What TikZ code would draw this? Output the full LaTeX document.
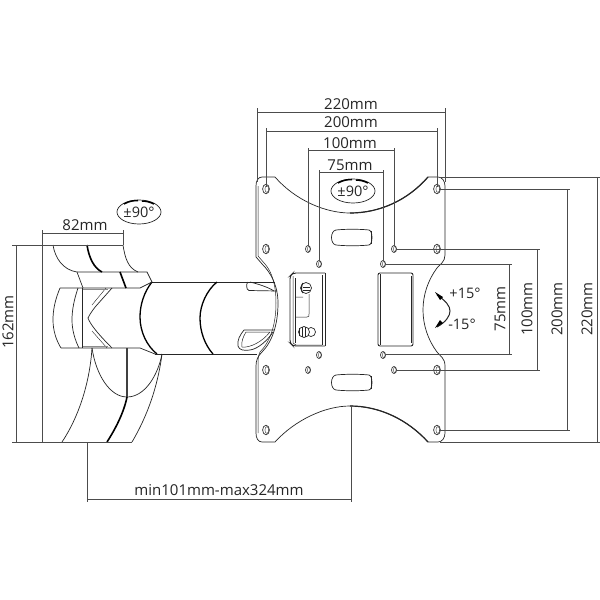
\documentclass[tikz,border=0pt]{standalone}
\usepackage{fontspec}
\setmainfont{Open Sans}
\usetikzlibrary{arrows.meta}
\tikzset{
  dim/.style={draw=black!70,line width=0.8pt},
  part/.style={draw=black!85,line width=0.7pt},
  thick part/.style={draw=black,line width=1.6pt},
  hole/.style={draw=black!80,line width=0.7pt},
  lbl/.style={font=\fontsize{15}{15}\selectfont,text=black!85,inner sep=0pt},
  lblsm/.style={font=\fontsize{14.5}{15}\selectfont,text=black!85,inner sep=0pt}
}
\newcommand{\holeat}[3]{\draw[hole] (#1,#2) ellipse [x radius=#3,y radius=#3*1.4]; \draw[hole,line width=0.4pt] (#1+0.8,#2) ellipse [x radius=#3*0.55,y radius=#3*1.0];}
\begin{document}
\begin{tikzpicture}[x=1pt,y=-1pt]
\useasboundingbox (0,0) rectangle (600,600);
\fill[white] (0,0) rectangle (600,600);

% plate
\draw[part] (262,177) -- (275,177) .. controls (295,200) and (325,213) .. (350,213)
  .. controls (380,213) and (408,200) .. (428,177) -- (438,177)
  .. controls (442,177) and (445,181) .. (445,186) -- (445,255)
  .. controls (445,262) and (440,264) .. (437,268)
  .. controls (428,280) and (423,295) .. (423,310)
  .. controls (423,325) and (428,340) .. (437,352)
  .. controls (440,356) and (445,358) .. (445,366) -- (445,433)
  .. controls (445,438) and (442,442) .. (438,442) -- (428,442)
  .. controls (408,420) and (380,406) .. (350,406)
  .. controls (325,406) and (295,420) .. (275,442) -- (262,442)
  .. controls (258,442) and (256,438) .. (256,433) -- (256,366)
  .. controls (256,360) and (258,356) .. (262,352)
  .. controls (272,342) and (278,325) .. (278,303)
  .. controls (278,285) and (270,272) .. (263,265) -- (256,257) -- (256,186)
  .. controls (256,181) and (258,177) .. (262,177) -- cycle;
% inner double edges and heavier arcs
\draw[part,line width=0.5pt] (258,186) -- (258,256) -- (265,264) .. controls (272,272) and (276,285) .. (276,303)
  .. controls (276,325) and (270,342) .. (260,352) .. controls (258,356) and (258,360) .. (258,366) -- (258,433);
\draw[part,line width=1.2pt] (350,213) .. controls (380,213) and (408,200) .. (428,177);
\draw[part,line width=1.2pt] (428,442) .. controls (408,420) and (380,406) .. (350,406);

% holes
\holeat{266}{189}{3.4} \holeat{437}{189}{3.4}
\holeat{266}{249}{3.4} \holeat{437}{249}{3.4}
\holeat{266}{370}{3.4} \holeat{437}{370}{3.4}
\holeat{266}{430}{3.4} \holeat{437}{430}{3.4}
\holeat{308}{249}{2.5} \holeat{394}{249}{2.5}
\holeat{308}{370}{2.5} \holeat{394}{370}{2.5}
\holeat{319}{264}{2.5} \holeat{383}{264}{2.5}
\holeat{319}{355}{2.5} \holeat{383}{355}{2.5}

% plate slots
\draw[part] (336,230) .. controls (345,229) and (360,229) .. (369,230) .. controls (373,231) and (373,244) .. (369,245) .. controls (360,246) and (345,246) .. (336,245) .. controls (330,244) and (330,231) .. (336,230) -- cycle;
\draw[part,line width=0.4pt] (371,231) -- (371,244);
\draw[part] (336,375) .. controls (345,374) and (360,374) .. (369,375) .. controls (373,376) and (373,389) .. (369,390) .. controls (360,391) and (345,391) .. (336,390) .. controls (330,389) and (330,376) .. (336,375) -- cycle;
\draw[part,line width=0.4pt] (371,376) -- (371,389);

% right bracket cut-out
\draw[part,rounded corners=2pt,line width=0.9pt] (378,273) rectangle (413,346);
\draw[part,line width=0.4pt,rounded corners=1pt] (380,274) -- (380,345);
\draw[part,line width=0.4pt,rounded corners=1pt] (411,276) -- (411,343);

% left bracket
\draw[part,rounded corners=3pt,line width=0.9pt] (325,273) -- (293,273) -- (290,276) -- (290,343) -- (293,346) -- (325,346);
\draw[part] (325,273) -- (325,346);
\draw[part,line width=0.5pt] (293,276) -- (293,343) -- (296,345) -- (322,345);
\draw[part,line width=0.5pt] (322,275) -- (322,345);
\draw[part,line width=0.5pt] (295,278) -- (295,343);
\draw[part,line width=0.5pt] (295,297) -- (303,297) (295,317) -- (307,317) .. controls (309,317) and (309,316) .. (309,314) -- (309,294);
\draw[part,fill=white,line width=0.7pt] (306,288) circle [radius=5.5];
\draw[part,line width=1pt] (303,283) .. controls (301,286) and (301,291) .. (303,293);
\draw[part,line width=0.5pt] (303,287) -- (310,287) (303,290) -- (310,290);
\draw[part,fill=white,line width=0.7pt] (311,332) circle [radius=4.5];
\draw[part,fill=white,line width=0.7pt] (304,332) circle [radius=5.5];
\draw[part,line width=0.9pt] (299,328) -- (299,336) (302,327) -- (302,337) (305,327) -- (305,337);

% arm: cylinder
\draw[part] (152,282) -- (275,282);
\draw[part] (157,354) -- (257,354);
\draw[thick part,line width=1.3pt] (152,282) .. controls (144,292) and (140,305) .. (140,317) .. controls (140,332) and (147,346) .. (157,354);
\draw[thick part,line width=1.3pt] (217,282) .. controls (207,290) and (200,305) .. (200,318) .. controls (200,332) and (205,345) .. (213,354);
% cylinder windows
\draw[part] (277,291) -- (249,290.5) .. controls (246,290) and (246,283) .. (248,282);
\draw[part] (250,282) .. controls (258,284) and (268,287) .. (274,291);
\draw[part] (274,330) -- (244,330) .. controls (240,335) and (237,340) .. (238,346) .. controls (239,350) and (244,351) .. (250,350) .. controls (258,349) and (268,340) .. (273,332);
\draw[part,line width=0.5pt] (270,332) -- (246,332) .. controls (243,337) and (241,342) .. (242,347) .. controls (250,348) and (262,342) .. (270,332);

% arm: joint
\draw[part] (60,288) -- (140,288) -- (152,282);
\draw[part] (61,348) -- (140,348) -- (155,354);
\draw[part] (77,272) -- (147,272) -- (152,282);
\draw[part] (60,288) .. controls (55,300) and (53,310) .. (53,320) .. controls (53,330) and (56,340) .. (61,348);
\draw[part] (78,288) .. controls (74,300) and (72,310) .. (72,320) .. controls (72,330) and (75,340) .. (79,348);
\draw[part] (82,288) -- (82,348);
\draw[part] (112,288) -- (96,306) .. controls (91,312) and (89,316) .. (88,318) .. controls (90,324) and (98,334) .. (112,348);
\draw[part,line width=0.4pt] (106,288) -- (92,305) (107,348) -- (92,331);
\draw[part,line width=1.2pt,draw=black!45] (83,346.5) -- (108,346.5);
\draw[part,line width=1.2pt,draw=black!45] (83,289.5) -- (108,289.5);

% arm: upper wall
\draw[part] (53,245) .. controls (55,258) and (63,270) .. (77,272);
\draw[thick part] (87,245) .. controls (89,258) and (94,268) .. (102,272);
\draw[part] (123,245) .. controls (125,258) and (128,268) .. (138,272);
\draw[part] (77,272) -- (83,288);
\draw[thick part] (120,272) -- (126,288);

% arm: lower wall
\draw[part] (92,348) .. controls (90,380) and (80,415) .. (62,442);
\draw[part] (92,348) .. controls (96,375) and (110,397) .. (127,397) .. controls (145,397) and (158,375) .. (162,354);
\draw[thick part,draw=black!75] (127,348) -- (127,397);
\draw[thick part] (127,397) .. controls (124,412) and (116,428) .. (107,442);
\draw[part] (162,354) .. controls (158,385) and (148,415) .. (132,442);
\draw[part] (155,354) -- (180,354);

% left dimensions
\draw[dim] (42,230) -- (42,442);
\draw[dim] (123,230) -- (123,245);
\draw[dim] (42,233) -- (123,233);
\draw[dim] (12,245) -- (123,245);
\draw[dim] (12,442) -- (132,442);
\draw[dim] (16,245) -- (16,442);
\node[lbl] (l82) at (85,225) {82mm};
\node[lbl,rotate=90] (l162) at (8,322) {162mm};

% travel dimension
\draw[dim] (87,442) -- (87,502);
\draw[dim] (351,406) -- (351,502);
\draw[dim] (87,499) -- (351,499);
\node[lbl] (lmin) at (219,490) {min101mm-max324mm};

% top dimensions
\draw[dim] (257,108) -- (257,182);
\draw[dim] (445,108) -- (445,182);
\draw[dim] (257,112) -- (445,112);
\draw[dim] (266,128) -- (266,187);
\draw[dim] (437,128) -- (437,187);
\draw[dim] (266,131) -- (437,131);
\draw[dim] (308,148) -- (308,246);
\draw[dim] (394,148) -- (394,246);
\draw[dim] (308,150) -- (394,150);
\draw[dim] (319,170) -- (319,261);
\draw[dim] (383,170) -- (383,261);
\draw[dim] (319,172) -- (383,172);
\node[lbl] (t220) at (351,104) {220mm};
\node[lbl] (t200) at (351,122) {200mm};
\node[lbl] (t100) at (350,143) {100mm};
\node[lbl] (t75) at (350,165) {75mm};

% right dimensions
\draw[dim] (440,177) -- (600,177);
\draw[dim] (440,442) -- (600,442);
\draw[dim] (597,177) -- (597,442);
\draw[dim] (439,189) -- (570,189);
\draw[dim] (439,430) -- (570,430);
\draw[dim] (567,189) -- (567,430);
\draw[dim] (396,249) -- (540,249);
\draw[dim] (396,370) -- (540,370);
\draw[dim] (537,249) -- (537,370);
\draw[dim] (385,264) -- (512,264);
\draw[dim] (385,354) -- (512,354);
\draw[dim] (509,264) -- (509,354);
\node[lbl,rotate=90] (r75) at (500,309) {75mm};
\node[lbl,rotate=90] (r100) at (527,309) {100mm};
\node[lbl,rotate=90] (r200) at (557,309) {200mm};
\node[lbl,rotate=90] (r220) at (587,309) {220mm};

% tilt
\draw[part,line width=1pt] (437,295) .. controls (446,301) and (450,306) .. (450,311) .. controls (450,316) and (446,322) .. (437,327);
\fill[black] (435,292) -- (443,297) -- (440,300) -- cycle;
\fill[black] (435,328) -- (443,323) -- (440,320) -- cycle;
\node[lblsm] (tp) at (465,293) {+15°};
\node[lblsm] (tm) at (462,324) {-15°};

% rotation badges
\draw[part] (353,191) ellipse [x radius=22,y radius=12];
\draw[black,line width=1.5pt] (338,183) .. controls (343,180) and (348,179.5) .. (352,179.5);
\draw[black,line width=1.5pt] (356,180) .. controls (360,180) and (364,181) .. (368,183);
\node[lblsm] (b1) at (353,191) {±90°};
\draw[part] (139,212) ellipse [x radius=22,y radius=12];
\draw[black,line width=1.5pt] (124,204) .. controls (129,201) and (134,200.5) .. (138,200.5);
\draw[black,line width=1.5pt] (142,201) .. controls (146,201) and (150,202) .. (154,204);
\node[lblsm] (b2) at (139,212) {±90°};
\end{tikzpicture}
\end{document}
